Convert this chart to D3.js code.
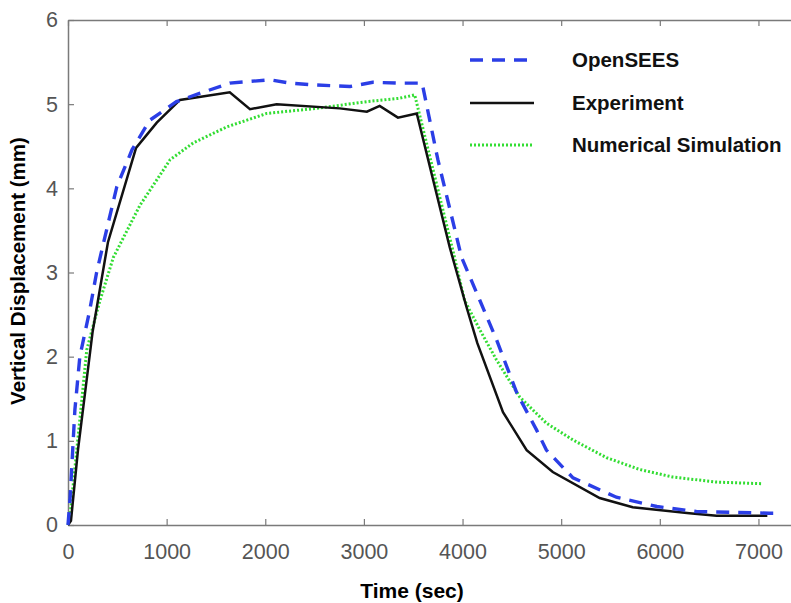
<!DOCTYPE html>
<html lang="en">
<head>
<meta charset="UTF-8">
<script src="https://d3js.org/d3.v7.min.js"></script>
<title>Vertical Displacement</title>
<style>
  body { margin: 0; background: #fff; }
  text { font-family: "Liberation Sans", Arial, sans-serif; }
</style>
</head>
<body>
<svg id="chart" width="791" height="603"></svg>
<script>
// data: time (sec), displacement (mm)
const openseesT = [0, 20, 70, 120, 220, 290, 400, 495, 650, 830, 1100, 1340, 1640, 2045, 2250, 2480, 2860, 3090, 3360, 3536, 3590, 3750, 3990, 4175, 4345, 4550, 4750, 4850, 5120, 5560, 5970, 6370, 7110, 7190];
const openseesY = [0, 0.3, 1.37, 2.0, 2.55, 3.0, 3.55, 4.02, 4.46, 4.81, 5.03, 5.13, 5.25, 5.29, 5.25, 5.23, 5.21, 5.26, 5.25, 5.25, 5.25, 4.34, 3.18, 2.67, 2.2, 1.57, 1.13, 0.89, 0.56, 0.33, 0.22, 0.16, 0.14, 0.14];

const experimentT = [0, 30, 101, 250, 405, 690, 900, 1135, 1640, 1845, 2115, 2755, 3030, 3160, 3345, 3536, 3870, 4040, 4150, 4410, 4650, 4915, 5390, 5725, 6300, 6575, 7090];
const experimentY = [0, 0.05, 0.89, 2.3, 3.36, 4.48, 4.78, 5.05, 5.14, 4.94, 5.0, 4.95, 4.91, 4.98, 4.84, 4.89, 3.3, 2.59, 2.16, 1.34, 0.89, 0.63, 0.32, 0.21, 0.14, 0.11, 0.11];

const numericalT = [0, 20, 120, 190, 290, 325, 460, 730, 900, 1035, 1270, 1610, 1915, 2015, 2520, 3030, 3360, 3515, 3900, 4020, 4175, 4345, 4580, 4850, 5120, 5460, 5795, 6130, 6575, 7045];
const numericalY = [0, 0.1, 1.25, 2.08, 2.52, 2.67, 3.18, 3.8, 4.1, 4.34, 4.54, 4.73, 4.85, 4.89, 4.95, 5.03, 5.07, 5.11, 3.27, 2.67, 2.32, 1.96, 1.52, 1.21, 1.01, 0.8, 0.66, 0.57, 0.51, 0.49];

const xTicks = [0, 1000, 2000, 3000, 4000, 5000, 6000, 7000];
const yTicks = [0, 1, 2, 3, 4, 5, 6];
const seriesNames = ["OpenSEES", "Experiment", "Numerical Simulation"];

const svg = d3.select("svg#chart");
const plot = {left: 68, top: 20, bottom: 525, right: 791};

const x = d3.scaleLinear().domain([0, 7330]).range([plot.left, plot.right]);
const y = d3.scaleLinear().domain([0, 6]).range([plot.bottom, plot.top]);

const axisColor = "#7a7a7a";
const labelColor = "#555";

// bottom axis
const gx = svg.append("g").attr("transform", "translate(0," + plot.bottom + ")")
  .call(d3.axisBottom(x).tickValues(xTicks).tickFormat(d3.format("d"))
    .tickSizeInner(-6).tickSizeOuter(0).tickPadding(19));
// top border
const gt = svg.append("g").attr("transform", "translate(0," + plot.top + ")")
  .call(d3.axisTop(x).tickValues(xTicks).tickFormat("")
    .tickSizeInner(-6).tickSizeOuter(0));
// left axis
const gy = svg.append("g").attr("transform", "translate(" + plot.left + ",0)")
  .call(d3.axisLeft(y).tickValues(yTicks).tickFormat(d3.format("d"))
    .tickSizeInner(-6).tickSizeOuter(0).tickPadding(10));

[gx, gt, gy].forEach(g => {
  g.select(".domain").attr("stroke", axisColor).attr("stroke-width", 1.5);
  g.selectAll(".tick line").attr("stroke", axisColor).attr("stroke-width", 1.2);
  g.selectAll(".tick text").attr("fill", labelColor)
    .style("font-size", "21.5px").style("font-family", "Liberation Sans, Arial, sans-serif");
});

// axis titles
svg.append("text")
  .attr("x", 412).attr("y", 598)
  .attr("text-anchor", "middle")
  .style("font-size", "21px").style("font-weight", "bold")
  .text("Time (sec)");

svg.append("text")
  .attr("transform", "translate(25," + 271 + ") rotate(-90)")
  .attr("text-anchor", "middle")
  .style("font-size", "20.5px").style("font-weight", "bold")
  .text("Vertical Displacement (mm)");

const line = d3.line().x(d => x(d[0])).y(d => y(d[1]));

const styles = [
  {stroke: "#2b3ee6", width: 3.4, dash: "13,9"},
  {stroke: "#111", width: 2.5, dash: null},
  {stroke: "#33dd33", width: 3, dash: "2,2"}
];

const numData = d3.zip(numericalT, numericalY);
const expData = d3.zip(experimentT, experimentY);
const osData = d3.zip(openseesT, openseesY);

svg.append("path").datum(numData)
  .attr("fill", "none").attr("stroke", styles[2].stroke)
  .attr("stroke-width", styles[2].width).attr("stroke-dasharray", styles[2].dash)
  .attr("d", line);
svg.append("path").datum(expData)
  .attr("fill", "none").attr("stroke", styles[1].stroke)
  .attr("stroke-width", styles[1].width)
  .attr("d", line);
svg.append("path").datum(osData)
  .attr("fill", "none").attr("stroke", styles[0].stroke)
  .attr("stroke-width", styles[0].width).attr("stroke-dasharray", styles[0].dash)
  .attr("d", line);

// legend
const legend = svg.append("g");
const legendY = [60, 103, 145];
seriesNames.forEach((name, i) => {
  const s = styles[i];
  legend.append("line")
    .attr("x1", 470).attr("x2", 534)
    .attr("y1", legendY[i]).attr("y2", legendY[i])
    .attr("stroke", s.stroke).attr("stroke-width", s.width)
    .attr("stroke-dasharray", s.dash);
  legend.append("text")
    .attr("x", 572).attr("y", legendY[i] + 7)
    .style("font-size", "20.5px").style("font-weight", "bold")
    .attr("fill", "#111")
    .text(name);
});
</script>
</body>
</html>
